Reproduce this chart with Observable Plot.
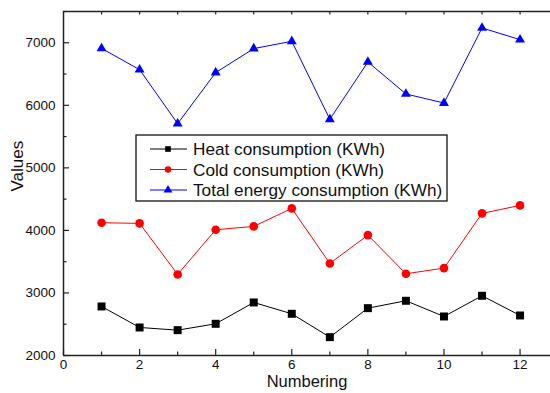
<!DOCTYPE html>
<html><head><meta charset="utf-8">
<script src="https://cdn.jsdelivr.net/npm/d3@7"></script>
<script src="https://cdn.jsdelivr.net/npm/@observablehq/plot@0.6"></script>
<style>body{margin:0;background:#fff}#chart{width:550px;height:393px}</style>
</head><body><div id="chart"></div>
<script>
const numbering = [1,2,3,4,5,6,7,8,9,10,11,12];
const heat  = [2784,2448,2405,2507,2848,2667,2293,2757,2875,2624,2955,2640];
const cold  = [4123,4112,3296,4011,4064,4352,3472,3925,3307,3397,4272,4400];
const total = [6910,6570,5707,6523,6907,7024,5776,6693,6181,6037,7237,7050];
const seriesNames = ["Heat consumption (KWh)","Cold consumption (KWh)","Total energy consumption (KWh)"];
const seriesValues = [heat, cold, total];
const seriesColors = ["#000000","#ff0000","#0000ff"];
const seriesSymbols = ["square","circle","triangle"];
const seriesR = [4.5, 4.3, 3.7];
const xDomain = [0, 12.8];
const yDomain = [2000, 7500];
const xMajorTicks = [0,2,4,6,8,10,12];
const xMinorTicks = [1,3,5,7,9,11];
const xTopTicks = [1,2,3,4,5,6,7,8,9,10,11,12];
const yMajorTicks = [2000,3000,4000,5000,6000,7000];
const yMinorTicks = [2500,3500,4500,5500,6500,7500];
const xLabel = "Numbering";
const yLabel = "Values";

const W = 550, H = 393, mT = 11, mB = 38, mL = 63, mR = 0;
const PH = H - mT - mB, PW = W - mL - mR;
const axisColor = "#222";

const marks = [];
seriesValues.forEach((vals, i) => {
  const data = numbering.map((n, j) => ({n, v: vals[j]}));
  marks.push(Plot.line(data, {x: "n", y: "v", stroke: seriesColors[i], strokeWidth: 1}));
  marks.push(Plot.dot(data, {x: "n", y: "v", symbol: () => seriesSymbols[i], fill: seriesColors[i], stroke: "none", r: seriesR[i]}));
});
// axis lines
marks.push(Plot.ruleX([xDomain[0]], {stroke: axisColor, strokeWidth: 1.5}));
marks.push(Plot.ruleY([yDomain[0], yDomain[1]], {stroke: axisColor, strokeWidth: 1.5}));
// inward ticks
marks.push(Plot.tickX(xMajorTicks, {x: d => d, insetTop: PH - 6, stroke: axisColor, strokeWidth: 1.2}));
marks.push(Plot.tickX(xMinorTicks, {x: d => d, insetTop: PH - 3.5, stroke: axisColor, strokeWidth: 1.2}));
marks.push(Plot.tickX(xTopTicks, {x: d => d, insetBottom: PH - 3.5, stroke: axisColor, strokeWidth: 1.2}));
marks.push(Plot.tickY(yMajorTicks, {y: d => d, insetRight: PW - 6, stroke: axisColor, strokeWidth: 1.2}));
marks.push(Plot.tickY(yMinorTicks, {y: d => d, insetRight: PW - 3.5, stroke: axisColor, strokeWidth: 1.2}));
// tick labels
marks.push(Plot.axisX({ticks: xMajorTicks, tickSize: 0, tickPadding: 4, tickFormat: "d", fontSize: 13.5, label: null, fill: "#111"}));
marks.push(Plot.axisY({ticks: yMajorTicks, tickSize: 0, tickPadding: 8, tickFormat: "d", fontSize: 13.5, label: null, fill: "#111"}));
// axis titles
marks.push(Plot.text([xLabel], {text: d => d, frameAnchor: "bottom", dy: 31, fontSize: 16.5, fill: "#111"}));
marks.push(Plot.text([yLabel], {text: d => d, frameAnchor: "left", dx: -46, dy: 8, rotate: -90, fontSize: 17, fill: "#111"}));

const chart = Plot.plot({
  width: W, height: H,
  marginTop: mT, marginBottom: mB, marginLeft: mL, marginRight: mR,
  style: {fontFamily: "'Liberation Sans', Arial, sans-serif", background: "#fff", overflow: "visible"},
  x: {domain: xDomain},
  y: {domain: yDomain},
  marks
});

// legend inside the plot area
const svg = d3.select(chart);
const lg = svg.append("g").attr("text-anchor", "start");
const bx = 136, by = 135, bw = 311, bh = 66;
lg.append("rect").attr("x", bx).attr("y", by).attr("width", bw).attr("height", bh)
  .attr("fill", "#fff").attr("stroke", "#111").attr("stroke-width", 1.3);
const legendSymbols = [d3.symbolSquare, d3.symbolCircle, d3.symbolTriangle];
const legendSizes = [32, 34, 34];
seriesNames.forEach((name, i) => {
  const cy = by + 14 + i * 20.5;
  lg.append("line").attr("x1", bx + 14).attr("x2", bx + 51).attr("y1", cy).attr("y2", cy)
    .attr("stroke", seriesColors[i]).attr("stroke-width", 1);
  lg.append("path").attr("d", d3.symbol(legendSymbols[i], legendSizes[i])())
    .attr("transform", `translate(${bx + 32},${cy})`).attr("fill", seriesColors[i]);
  lg.append("text").attr("x", bx + 57).attr("y", cy).attr("dy", "0.35em")
    .attr("text-anchor", "start").attr("font-size", 17.2).attr("fill", "#111").text(name);
});
document.getElementById("chart").appendChild(chart);
</script>
</body></html>
